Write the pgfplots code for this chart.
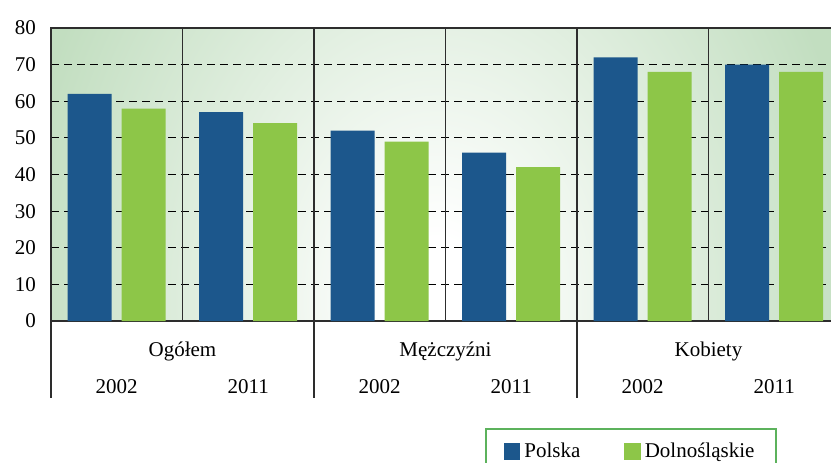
\documentclass[border=0pt]{standalone}
\usepackage{fontspec}
\setmainfont{Liberation Serif}
\usepackage{pgfplots}
\pgfplotsset{compat=1.18}

\definecolor{plblue}{RGB}{28,87,140}
\definecolor{dsgreen}{RGB}{141,198,72}
\definecolor{bggreen}{RGB}{194,222,192}
\definecolor{legframe}{RGB}{92,178,92}
\definecolor{sepgray}{RGB}{45,45,45}
% path bbox is mapped onto the 25bp..75bp square of the shading
\pgfdeclareradialshading{panelbg}{\pgfpoint{0bp}{0bp}}{color(0bp)=(white); color(3bp)=(white); color(27bp)=(bggreen); color(50bp)=(bggreen)}

\pgfplotsset{
  sqlegend/.style={legend image code/.code={\fill[##1] (0pt,-4.2pt) rectangle (8.2pt,4.2pt);}},
}

\begin{document}
\begin{tikzpicture}[font=\fontsize{10.5}{12}\selectfont]
\clip (-25.5pt,-70.5pt) rectangle (390pt,160.5pt);
% background of the plot area
\begin{scope}
  \clip (0,0) rectangle (394.5pt,146.5pt);
  \shade[shading=panelbg] (-4pt,-250pt) rectangle (390pt,270pt);
\end{scope}
\begin{axis}[
    at={(0,0)}, anchor=south west,
    width=394.5pt, height=146.5pt, scale only axis,
    clip=false,
    xmin=0, xmax=6, ymin=0, ymax=80,
    ytick={0,10,...,80},
    xtick={0.5,1.5,...,5.5},
    xticklabels={2002,2011,2002,2011,2002,2011},
    major tick length=0pt,
    /pgf/number format/assume math mode=true,
    axis line style={sepgray, line width=0.8pt},
    ymajorgrids,
    grid style={black, dash pattern=on 4pt off 2.5pt, line width=0.5pt},
    yticklabel style={xshift=-4pt},
    xticklabel style={anchor=base, yshift=-36pt},
    legend columns=2,
    legend style={at={(0.55,-0.365)}, anchor=north west,
      draw=legframe, line width=1pt, fill=white,
      inner xsep=9pt, inner ysep=5pt,
      /tikz/every even column/.append style={column sep=20pt}},
]
\addplot[ybar, sqlegend, bar width=22pt, bar shift=-13.5pt, fill=plblue, draw=none]
  coordinates {(0.5,62) (1.5,57) (2.5,52) (3.5,46) (4.5,72) (5.5,70)};
\addplot[ybar, sqlegend, bar width=22pt, bar shift=13.5pt, fill=dsgreen, draw=none]
  coordinates {(0.5,58) (1.5,54) (2.5,49) (3.5,42) (4.5,68) (5.5,68)};
\legend{Polska,Dolnośląskie}

\draw[sepgray, line width=0.8pt] (axis cs:1,0) -- (axis cs:1,80);
\draw[sepgray, line width=0.8pt] (axis cs:3,0) -- (axis cs:3,80);
\draw[sepgray, line width=0.8pt] (axis cs:5,0) -- (axis cs:5,80);
\draw[sepgray, line width=0.8pt] (axis cs:2,80) -- (axis cs:2,0) -- ++(0pt,-38.5pt);
\draw[sepgray, line width=0.8pt] (axis cs:4,80) -- (axis cs:4,0) -- ++(0pt,-38.5pt);
\draw[sepgray, line width=0.8pt] (axis cs:0,0) -- ++(0pt,-38.5pt);

\node[anchor=base, yshift=-17.5pt] at (axis cs:1,0) {Ogółem};
\node[anchor=base, yshift=-17.5pt] at (axis cs:3,0) {Mężczyźni};
\node[anchor=base, yshift=-17.5pt] at (axis cs:5,0) {Kobiety};
\end{axis}
\end{tikzpicture}
\end{document}
